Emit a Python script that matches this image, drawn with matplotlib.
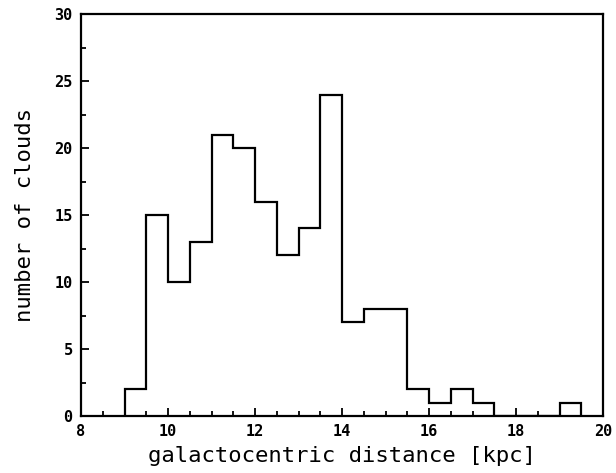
import numpy as np
import matplotlib.pyplot as plt
from matplotlib.ticker import MultipleLocator

# histogram of cloud distances, bins 0.5 kpc wide
bin_edges = [9.0, 9.5, 10.0, 10.5, 11.0, 11.5, 12.0, 12.5, 13.0, 13.5, 14.0,
             14.5, 15.0, 15.5, 16.0, 16.5, 17.0, 17.5, 18.0, 18.5, 19.0, 19.5]
counts = [2, 15, 10, 13, 21, 20, 16, 12, 14, 24, 7,
          8, 8, 2, 1, 2, 1, 0, 0, 0, 1]

plt.rcParams['font.family'] = 'DejaVu Sans Mono'

fig = plt.figure(figsize=(6.16, 4.73), dpi=100)
ax = fig.add_axes([0.1315, 0.1205, 0.8475, 0.8495])

ax.stairs(counts, bin_edges, color='black', linewidth=1.6, baseline=0)

ax.set_xlim(8, 20)
ax.set_ylim(0, 30)
ax.xaxis.set_major_locator(MultipleLocator(2))
ax.xaxis.set_minor_locator(MultipleLocator(0.5))
ax.yaxis.set_major_locator(MultipleLocator(5))
ax.yaxis.set_minor_locator(MultipleLocator(2.5))
ax.tick_params(which='both', direction='in', top=False, right=False, width=1.3,
               labelsize=11)
ax.tick_params(which='major', length=6, pad=6)
ax.tick_params(which='minor', length=3.5)
for lbl in ax.get_xticklabels() + ax.get_yticklabels():
    lbl.set_fontweight('bold')
for sp in ax.spines.values():
    sp.set_linewidth(1.6)

ax.set_xlabel('galactocentric distance [kpc]', fontsize=16, labelpad=5)
ax.set_ylabel('number of clouds', fontsize=16, labelpad=14)

fig.savefig('out.png', dpi=100, facecolor='white')
